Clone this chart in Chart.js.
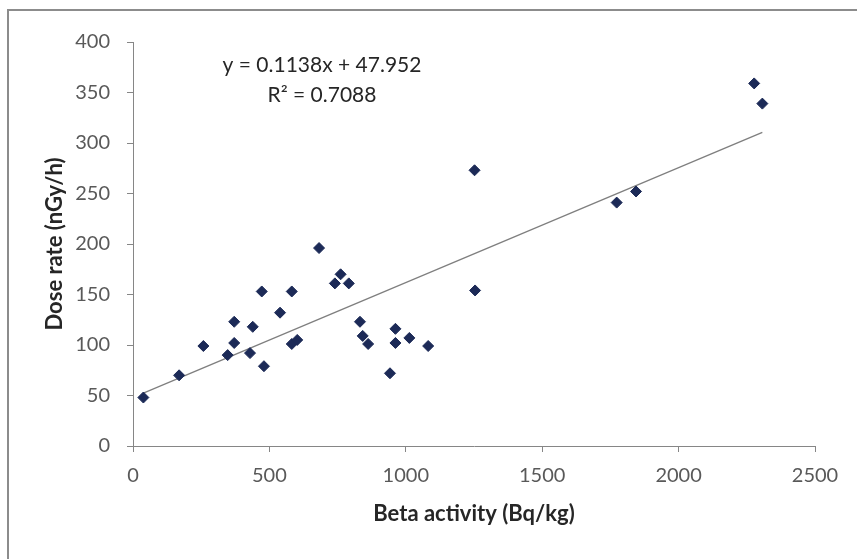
<!DOCTYPE html>
<html>
<head>
<meta charset="utf-8">
<script src="https://cdn.jsdelivr.net/npm/chart.js@4"></script>
<style>
  html, body { margin: 0; padding: 0; background: #ffffff; }
  #wrap { width: 857px; height: 559px; }
</style>
</head>
<body>
<div id="wrap"><canvas id="doseChart" width="857" height="559"></canvas></div>
<script>
const betaActivity = [38, 169, 258, 347, 371, 371, 429, 439, 472, 480, 539, 582, 582, 602, 682,
    740, 761, 791, 832, 842, 862, 942, 962, 962, 1013, 1082, 1252, 1254, 1773, 1844, 2277, 2307];
const doseRate = [48, 70, 99, 90, 123, 102, 92, 118, 153, 79, 132, 153, 101, 105, 196,
    161, 170, 161, 123, 109, 101, 72, 116, 102, 107, 99, 273, 154, 241, 252, 359, 339];

// lineare Trendlinie (Excel)
const slope = 0.1138;
const intercept = 47.952;
const trendX = [38, 2307];
const equationText = 'y = 0.1138x + 47.952';
const rSquaredText = 'R\u00b2 = 0.7088';

const xTicks = [0, 500, 1000, 1500, 2000, 2500];
const yTicks = [0, 50, 100, 150, 200, 250, 300, 350, 400];

const points = betaActivity.map((x, i) => ({ x: x, y: doseRate[i] }));
const trend = trendX.map(x => ({ x: x, y: slope * x + intercept }));

const axisGrey = '#868686';
const labelGrey = '#595959';

const framePlugin = {
    id: 'frame',
    beforeDraw: (chart) => {
        const ctx = chart.ctx;
        ctx.save();
        ctx.fillStyle = '#ffffff';
        ctx.fillRect(0, 0, chart.width, chart.height);
        ctx.strokeStyle = '#8c8c8c';  // Rahmen oben und links
        ctx.lineWidth = 2;
        ctx.beginPath();
        ctx.moveTo(8, chart.height);
        ctx.lineTo(8, 10);
        ctx.lineTo(chart.width, 10);
        ctx.stroke();
        ctx.restore();
    },
    afterDraw: (chart) => {
        const ctx = chart.ctx;
        ctx.save();
        ctx.fillStyle = '#262626';
        ctx.font = '21px Lato';
        ctx.textAlign = 'center';
        ctx.textBaseline = 'middle';
        ctx.fillText(equationText, 322, 65);
        ctx.fillText(rSquaredText, 322, 95);
        ctx.restore();
    }
};

const ctx = document.getElementById('doseChart').getContext('2d');

const myChart = new Chart(ctx, {
    type: 'scatter',
    data: {
        datasets: [{
            label: 'Dose rate',
            data: points,
            pointStyle: 'rectRot',
            pointRadius: 5.5,
            backgroundColor: '#1c2a57',
            borderColor: '#1c2a57',
            borderWidth: 1
        }, {
            type: 'line',
            label: 'Trend',
            data: trend,
            borderColor: '#7f7f7f',
            borderWidth: 1.3,
            pointRadius: 0,
            fill: false
        }]
    },
    options: {
        responsive: false,
        animation: false,
        layout: {
            padding: { left: 42, top: 42, right: 42, bottom: 32 }
        },
        scales: {
            x: {
                type: 'linear',
                min: 0,
                max: 2500,
                afterBuildTicks: (scale) => { scale.ticks = xTicks.map(v => ({ value: v })); },
                afterFit: (scale) => { scale.height = 81; },
                title: {
                    display: true,
                    text: 'Beta activity (Bq/kg)',
                    color: '#262626',
                    font: { family: 'Lato', size: 22, weight: 'bold' },
                    padding: { top: 0, bottom: 0 }
                },
                ticks: {
                    color: labelGrey,
                    font: { family: 'Lato', size: 20 },
                    padding: 12,
                    maxRotation: 0,
                    callback: (v) => String(v)
                },
                grid: {
                    drawOnChartArea: false,
                    drawTicks: true,
                    tickLength: 6,
                    color: axisGrey
                },
                border: { color: axisGrey, width: 1 }
            },
            y: {
                min: 0,
                max: 400,
                afterBuildTicks: (scale) => { scale.ticks = yTicks.map(v => ({ value: v })); },
                afterFit: (scale) => { scale.width = 91; },
                title: {
                    display: true,
                    text: 'Dose rate (nGy/h)',
                    color: '#262626',
                    font: { family: 'Lato', size: 22, weight: 'bold' },
                    padding: { top: 0, bottom: 0 }
                },
                ticks: {
                    color: labelGrey,
                    font: { family: 'Lato', size: 20 },
                    padding: 17,
                    callback: (v) => String(v)
                },
                grid: {
                    drawOnChartArea: false,
                    drawTicks: true,
                    tickLength: 6,
                    color: axisGrey
                },
                border: { color: axisGrey, width: 1 }
            }
        },
        plugins: {
            legend: { display: false },
            tooltip: { enabled: false }
        }
    },
    plugins: [framePlugin]
});
</script>
</body>
</html>
